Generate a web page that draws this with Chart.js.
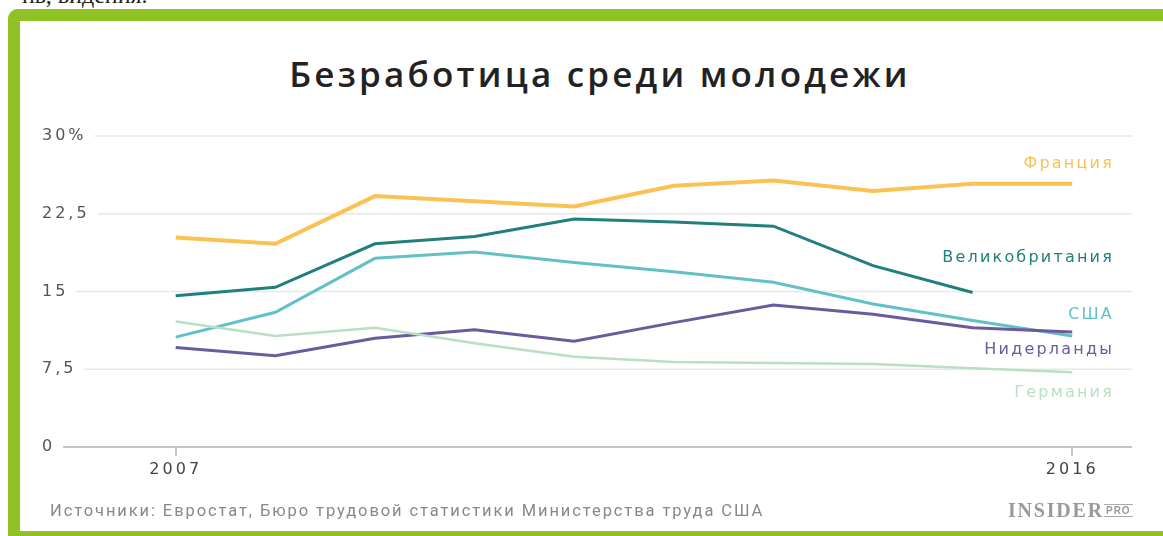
<!DOCTYPE html>
<html>
<head>
<meta charset="utf-8">
<script src="https://cdn.jsdelivr.net/npm/chart.js@4"></script>
<style>
  html, body { margin: 0; padding: 0; background: #fff; }
  body { width: 1163px; height: 536px; overflow: hidden; position: relative; }
  .cut { position: absolute; left: 22px; top: -18px; font: 24px "Liberation Serif", serif; color: #222; }
  .frame { position: absolute; left: 8px; top: 9px; width: 1180px; height: 540px; box-sizing: border-box;
           border-left: 12px solid #90c226; border-top: 12px solid #90c226; border-top-left-radius: 10px; }
  .frame-bottom { position: absolute; left: 8px; top: 531px; width: 1160px; height: 10px; background: #90c226; }
  #rateChart { position: absolute; left: 0; top: 0; }
  .title { position: absolute; left: 0; width: 1200px; top: 50px; text-align: center;
           font: 600 35px "Open Sans", sans-serif; letter-spacing: 3.2px; color: #222; white-space: nowrap; }
  .source { position: absolute; left: 50px; top: 501px; font: 16.5px Roboto, sans-serif; color: #888;
            letter-spacing: 1.9px; white-space: nowrap; }
  .logo { position: absolute; left: 1008px; top: 499px; color: #9a9a9a; white-space: nowrap; }
  .logo b { font: bold 20px "Liberation Serif", serif; letter-spacing: 1.8px; }
  .logo span { font: bold 10px "Liberation Sans", sans-serif; border-top: 1px solid #aaa; border-bottom: 1px solid #aaa;
               padding: 0 2px; vertical-align: 3px; margin-left: 0; letter-spacing: 1px; }
</style>
</head>
<body>
<div class="cut">нь, видения.</div>
<div class="frame"></div>
<div class="frame-bottom"></div>
<div class="title">Безработица среди молодежи</div>
<canvas id="rateChart" width="1163" height="536"></canvas>
<div class="source">Источники: Евростат, Бюро трудовой статистики Министерства труда США</div>
<div class="logo"><b>INSIDER</b><span>PRO</span></div>
<script>
const years = [2007, 2008, 2009, 2010, 2011, 2012, 2013, 2014, 2015, 2016];
const france      = [20.2, 19.6, 24.2, 23.7, 23.2, 25.2, 25.7, 24.7, 25.4, 25.4];
const uk          = [14.6, 15.4, 19.6, 20.3, 22.0, 21.7, 21.3, 17.5, 14.9, null];
const usa         = [10.6, 13.0, 18.2, 18.8, 17.8, 16.9, 15.9, 13.8, 12.2, 10.7];
const netherlands = [9.6, 8.8, 10.5, 11.3, 10.2, 12.0, 13.7, 12.8, 11.5, 11.1];
const germany     = [12.1, 10.7, 11.5, 10.0, 8.7, 8.2, 8.1, 8.0, 7.6, 7.2];

const seriesNames = ['Германия', 'Нидерланды', 'США', 'Великобритания', 'Франция'];
const seriesData = [germany, netherlands, usa, uk, france];
const yTicks = [0, 7.5, 15, 22.5, 30];
const xTicks = [2007, 2016];

// where the name labels sit on the right (in y-axis units)
const colors = ['#b9dfc4', '#6b5a9e', '#62c1c7', '#21807e', '#fbc253'];
const widths = [2.5, 3, 3, 3, 4];
const nameAt = [5.2, 9.4, 12.7, 18.2, 27.3];

const toPoints = arr => years.map((yr, i) => ({ x: yr, y: arr[i] })).filter(p => p.y !== null);

const SPACING = '3px';
const TICK_FONT = 'DejaVu Sans';

const spacing = {
  id: 'spacing',
  beforeLayout(chart) { chart.ctx.letterSpacing = SPACING; },
  beforeDraw(chart) { chart.ctx.letterSpacing = SPACING; }
};

const gridAndNames = {
  id: 'gridAndNames',
  beforeDatasetsDraw(chart) {
    const ctx = chart.ctx;
    const ys = chart.scales.y;
    const area = chart.chartArea;
    ctx.save();
    ctx.font = '16px ' + TICK_FONT;
    ctx.letterSpacing = SPACING;
    ys.ticks.forEach(t => {
      const w = ctx.measureText(t.label).width;
      const y = ys.getPixelForValue(t.value);
      ctx.beginPath();
      ctx.moveTo(ys.left + w + 8, y);
      ctx.lineTo(area.right, y);
      ctx.strokeStyle = t.value === 0 ? '#c4c4c4' : '#e8e8e8';
      ctx.lineWidth = t.value === 0 ? 2 : 1.5;
      ctx.stroke();
    });
    ctx.restore();
  },
  afterDatasetsDraw(chart) {
    const ctx = chart.ctx;
    const ys = chart.scales.y;
    ctx.save();
    ctx.font = '16px ' + TICK_FONT;
    ctx.letterSpacing = '2.2px';
    ctx.textAlign = 'right';
    ctx.textBaseline = 'middle';
    seriesNames.forEach((n, i) => {
      ctx.fillStyle = colors[i];
      ctx.fillText(n, 1114, ys.getPixelForValue(nameAt[i]));
    });
    ctx.restore();
  }
};

new Chart(document.getElementById('rateChart').getContext('2d'), {
  type: 'line',
  data: {
    datasets: seriesNames.map((n, i) => ({
      label: n,
      data: toPoints(seriesData[i]),
      borderColor: colors[i],
      borderWidth: widths[i],
      pointRadius: 0,
      tension: 0,
      fill: false
    }))
  },
  options: {
    responsive: false,
    animation: false,
    layout: { padding: { left: 42, right: 31, top: 136, bottom: 49 } },
    plugins: {
      legend: { display: false },
      tooltip: { enabled: false },
      title: { display: false }
    },
    scales: {
      x: {
        type: 'linear',
        min: 2006.24,
        max: 2016.6,
        afterBuildTicks: s => { s.ticks = xTicks.map(v => ({ value: v })); },
        afterFit: s => { s.height = 40; },
        ticks: { color: '#444', font: { family: TICK_FONT, size: 16 }, padding: 4, callback: v => String(v) },
        grid: { drawOnChartArea: false, drawTicks: true, tickLength: 9, color: '#c4c4c4', lineWidth: 2 },
        border: { display: false }
      },
      y: {
        min: 0,
        max: 30,
        afterBuildTicks: s => { s.ticks = yTicks.map(v => ({ value: v })); },
        afterFit: s => { s.width = 58; },
        ticks: {
          color: '#555',
          crossAlign: 'far',
          font: { family: TICK_FONT, size: 16 },
          callback: v => v === 30 ? '30%' : String(v).replace('.', ',')
        },
        grid: { display: false },
        border: { display: false }
      }
    }
  },
  plugins: [spacing, gridAndNames]
});
</script>
</body>
</html>
